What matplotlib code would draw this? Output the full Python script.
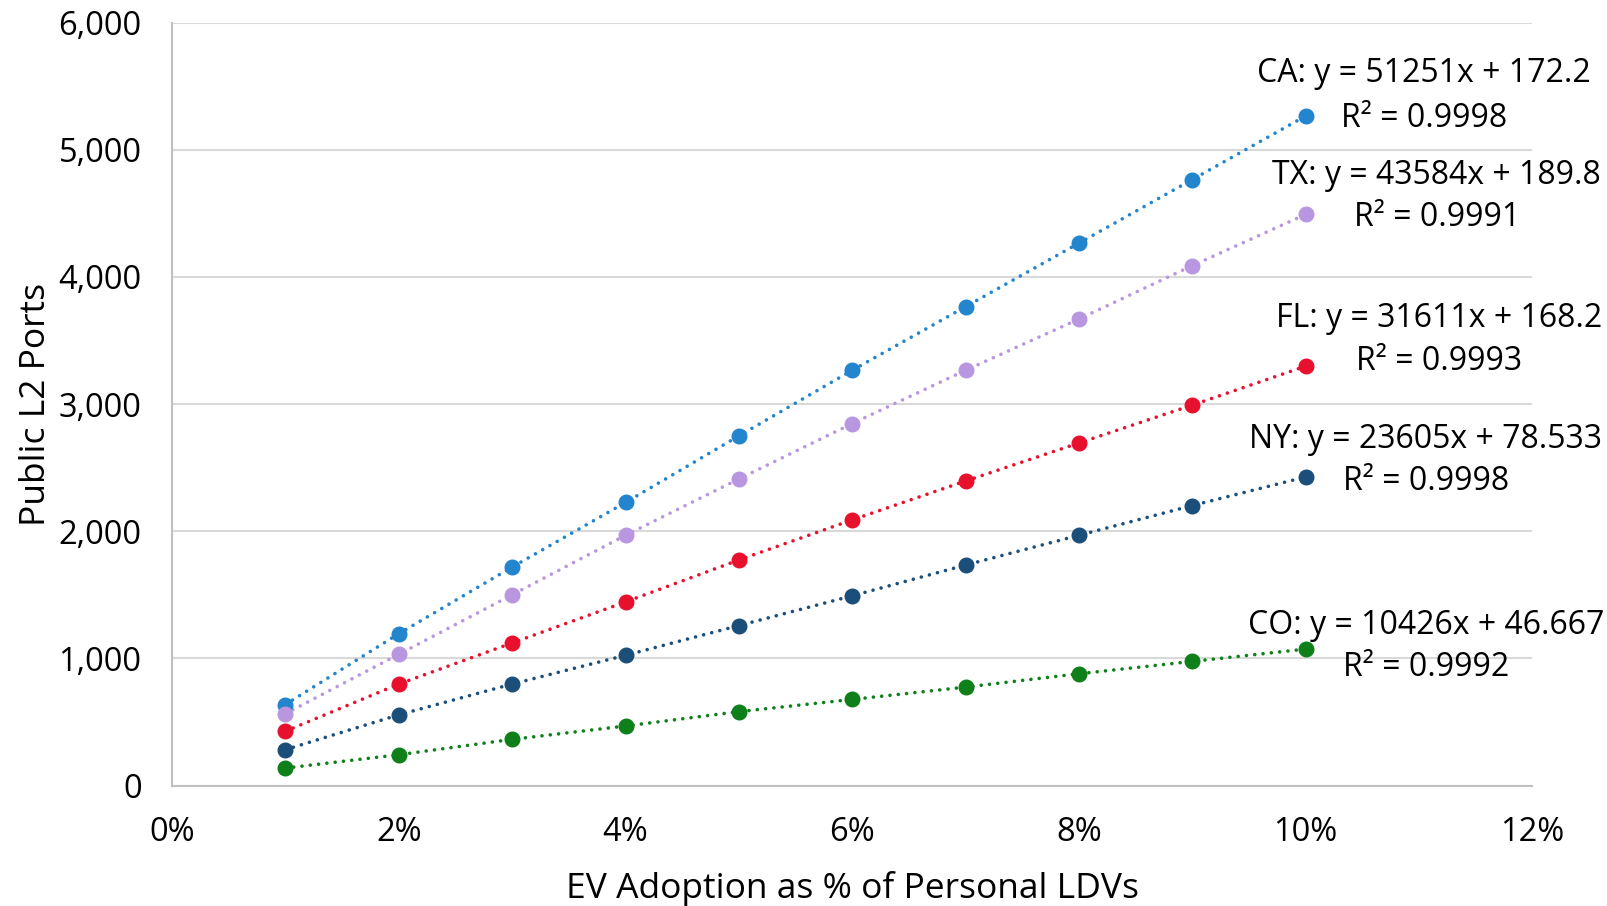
import matplotlib
matplotlib.use("Agg")
import matplotlib.pyplot as plt
from matplotlib.ticker import FuncFormatter, MultipleLocator

plt.rcParams['font.family'] = ['Open Sans', 'DejaVu Sans']

adoption = [0.01, 0.02, 0.03, 0.04, 0.05, 0.06, 0.07, 0.08, 0.09, 0.10]
ca = [637, 1194, 1718, 2226, 2750, 3266, 3766, 4266, 4766, 5266]
tx = [565, 1032, 1500, 1968, 2411, 2847, 3266, 3669, 4089, 4492]
fl = [427, 798, 1121, 1444, 1774, 2089, 2395, 2694, 2992, 3298]
ny = [282, 556, 798, 1024, 1258, 1492, 1734, 1968, 2202, 2427]
co = [137, 242, 363, 468, 581, 677, 774, 879, 976, 1073]

states = ['CA', 'TX', 'FL', 'NY', 'CO']
series = [ca, tx, fl, ny, co]
colors = ['#2385CD', '#B996E0', '#E8112D', '#1B4F7A', '#0F7F1A']
equations = ['CA: y = 51251x + 172.2', 'TX: y = 43584x + 189.8',
             'FL: y = 31611x + 168.2', 'NY: y = 23605x + 78.533',
             'CO: y = 10426x + 46.667']
r2 = ['R² = 0.9998', 'R² = 0.9991', 'R² = 0.9993', 'R² = 0.9998', 'R² = 0.9992']
label_x = [0.1104, 0.1115, 0.1118, 0.1106, 0.1106]
label_y1 = [5600, 4800, 3672, 2722, 1262]
label_y2 = [5250, 4470, 3333, 2389, 930]
label_x2 = [0.1104, 0.1116, 0.1118, 0.1106, 0.1106]

fig = plt.figure(figsize=(16.08, 9.06), dpi=100)
ax = fig.add_axes([0.107, 0.133, 0.846, 0.842])

for s, ys, c in zip(states, series, colors):
    ax.plot(adoption, ys, linestyle=(0, (0.01, 2.3)), dash_capstyle='round',
            color=c, linewidth=2.6, zorder=2)
    ax.plot(adoption, ys, linestyle='none', marker='o', markersize=10.5,
            color=c, zorder=3)

for eq, r, x1, x2, y1, y2 in zip(equations, r2, label_x, label_x2, label_y1, label_y2):
    ax.text(x1, y1, eq, ha='center', va='center', fontsize=23, color='#000000')
    ax.text(x2, y2, r, ha='center', va='center', fontsize=23, color='#000000')

ax.set_xlim(0, 0.12)
ax.set_ylim(0, 6000)
ax.xaxis.set_major_locator(MultipleLocator(0.02))
ax.yaxis.set_major_locator(MultipleLocator(1000))
ax.xaxis.set_major_formatter(FuncFormatter(lambda v, p: f"{v*100:.0f}%"))
ax.yaxis.set_major_formatter(FuncFormatter(lambda v, p: f"{v:,.0f}"))
ax.grid(axis='y', color='#D9D9D9', linewidth=1.5)
ax.set_axisbelow(True)
for side in ['top', 'right']:
    ax.spines[side].set_visible(False)
for side in ['left', 'bottom']:
    ax.spines[side].set_color('#BFBFBF')
    ax.spines[side].set_linewidth(1.5)
ax.tick_params(axis='both', length=0, labelsize=23.5, colors='#000000')
ax.tick_params(axis='x', pad=22)
ax.tick_params(axis='y', pad=22)
ax.set_xlabel('EV Adoption as % of Personal LDVs', fontsize=25.5, labelpad=16)
ax.set_ylabel('Public L2 Ports', fontsize=25.5, labelpad=4)

fig.savefig('out.png', dpi=100)
